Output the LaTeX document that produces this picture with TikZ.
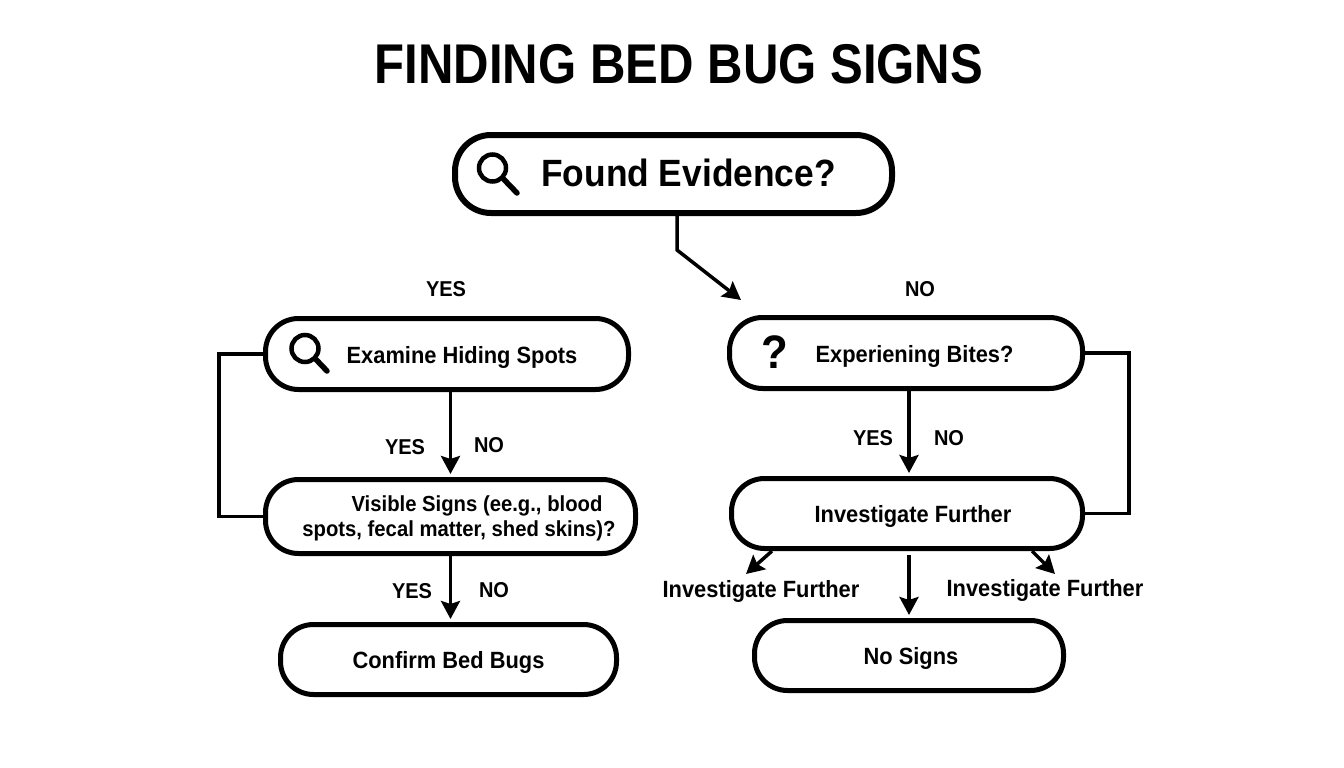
\documentclass[tikz,border=0pt]{standalone}
\usepackage{fontspec}
\setmainfont[FakeStretch=0.93]{Liberation Sans}
\newfontfamily\titlefont[FakeStretch=0.877]{Liberation Sans}
\usetikzlibrary{arrows.meta}
\tikzstyle{pill}=[draw,line width=5pt,rounded corners=33pt,font=\fontsize{23.5}{25}\selectfont\bfseries,align=center,inner sep=0pt,text height=18pt,text depth=0pt]
\tikzstyle{tag}=[font=\fontsize{21.5}{26}\selectfont\bfseries,inner sep=0pt]
\tikzstyle{further label}=[font=\fontsize{23.5}{26}\selectfont\bfseries,inner sep=0pt,text height=18pt,text depth=0pt]
\tikzstyle{flow}=[line width=3.5pt,-{Stealth[length=18pt,width=19pt,inset=3pt]}]
\tikzstyle{loopback}=[line width=3.2pt]
\tikzstyle{lens}=[circle,draw,line width=4.5pt,minimum size=27pt,inner sep=0pt]
\tikzstyle{handle}=[line width=5.5pt,line cap=round]

\begin{document}
\begin{tikzpicture}[x=1pt,y=-1pt]
            \useasboundingbox (0,0) rectangle (1344,768);
            \node (title) at (679,63.5) [font=\fontsize{56}{60}\titlefont\bfseries,inner sep=0pt,text height=41pt,text depth=0pt] {FINDING BED BUG SIGNS};
            % top box
            \node (found) at (673.5,174) [pill,line width=6pt,rounded corners=36pt,minimum width=437pt,minimum height=78pt,font=\fontsize{38}{42}\selectfont\bfseries,text height=25pt] {\hspace*{30pt}Found Evidence?};
            \node (lensa) at (492.5,168) [lens] {};
            \draw[handle] (lensa.-45) -- (517,193);
            \coordinate (foundend) at (741,300);
            \draw[flow] (found.south -| 677,0) -- (677,250) -- (foundend);
            \node (yesa) at (446,289) [tag] {YES};
            \node (noa) at (920,289) [tag] {NO};
            % left column
            \node (examine) at (447,354) [pill,minimum width=363pt,minimum height=71pt] {\hspace*{30pt}Examine Hiding Spots};
            \node (lensb) at (305,348.5) [lens] {};
            \draw[handle] (lensb.-45) -- (327,371);
            \node (visible) at (450.5,516.5) [pill,minimum width=370pt,minimum height=74pt,font=\fontsize{21.8}{25}\selectfont\bfseries,text height=40pt] {\hspace*{53pt}Visible Signs (ee.g., blood\\\hspace*{17pt}spots, fecal matter, shed skins)?};
            \node (confirm) at (448.5,659.5) [pill,minimum width=336pt,minimum height=70pt] {Confirm Bed Bugs};
            \draw[flow,shorten >=3pt] (examine.south -| visible.north) -- (visible.north);
            \draw[flow,shorten >=3pt] (visible.south) -- (visible.south |- confirm.north);
            \draw[loopback] (examine.west) -- (219,354) |- (visible.west);
            \node (yesb) at (405,447) [tag] {YES};
            \node (nob) at (489,445) [tag] {NO};
            \node (yesc) at (412,591) [tag] {YES};
            \node (noc) at (494,590) [tag] {NO};
            % right column
            \node (bites) at (906,353) [pill,minimum width=353pt,minimum height=71pt] {\hspace*{17pt}Experiening Bites?};
            \node (mark) at (775,352) [font=\fontsize{47}{52}\selectfont\bfseries,inner sep=0pt] {?};
            \node (further) at (907,513.5) [pill,minimum width=351pt,minimum height=70pt] {\hspace*{12pt}Investigate Further};
            \node (nosigns) at (909,655.5) [pill,minimum width=309pt,minimum height=70pt] {\hspace*{4pt}No Signs};
            \draw[flow,shorten >=3pt] (bites.south -| nosigns.north) -- (further.north -| nosigns.north);
            \draw[flow,shorten <=4pt,shorten >=3pt] (further.south -| nosigns.north) -- (nosigns.north);
            \draw[loopback] (bites.east) -- (1129,353) |- (further.east);
            \node (yesd) at (873,438) [tag] {YES};
            \node (nod) at (949,438) [tag] {NO};
            \node (furthera) at (761,588) [further label] {Investigate Further};
            \node (furtherb) at (1045,587) [further label] {Investigate Further};
            \coordinate (enda) at (746,574);
            \coordinate (endb) at (1055,574);
            \draw[flow] (further.south -| 772,0) -- (enda);
            \draw[flow] (further.south -| 1032,0) -- (endb);
        \end{tikzpicture}
\end{document}
